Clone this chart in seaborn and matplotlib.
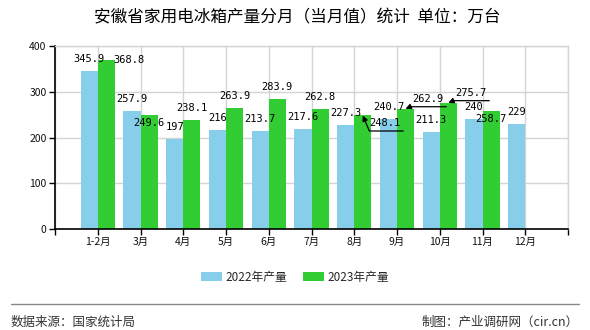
import numpy as np
import pandas as pd
import seaborn as sns
import matplotlib
matplotlib.use("Agg")
import matplotlib.pyplot as plt
from matplotlib.lines import Line2D
from matplotlib.patches import Patch

# ---- data ----
months = ["1-2月", "3月", "4月", "5月", "6月", "7月", "8月", "9月", "10月", "11月", "12月"]
prod_2022 = [345.9, 257.9, 197, 216, 213.7, 217.6, 227.3, 240.7, 211.3, 240, 229]
prod_2023 = [368.8, 249.6, 238.1, 263.9, 283.9, 262.8, 248.1, 262.9, 275.7, 258.7, np.nan]
series_names = ["2022年产量", "2023年产量"]
yticks = [0, 100, 200, 300, 400]
title = "安徽省家用电冰箱产量分月（当月值）统计  单位：万台"
source_text = "数据来源：国家统计局"
maker_text = "制图：产业调研网（cir.cn）"

colors = ["#87CEEB", "#32CD32"]

df = pd.DataFrame({
    "月份": months * 2,
    "产量": prod_2022 + prod_2023,
    "系列": [series_names[0]] * len(months) + [series_names[1]] * len(months),
})

sns.set_style("white")
plt.rcParams["font.family"] = ["Noto Sans CJK SC", "DejaVu Sans"]

W, H = 590, 330
fig = plt.figure(figsize=(W / 100, H / 100), dpi=100)
ax = fig.add_axes([55 / W, (H - 229) / H, 513 / W, 183 / H])

sns.barplot(data=df, x="月份", y="产量", hue="系列", order=months,
            hue_order=series_names, palette=colors, width=0.8, gap=0,
            saturation=1, ax=ax, legend=False, errorbar=None,
            linewidth=0, edgecolor="none")

ax.set_xlim(-1, 11)
ax.set_ylim(0, 400)
ax.set_yticks(yticks)
ax.set_yticklabels([str(t) for t in yticks])
ax.set_xticks(range(-1, 12))
ax.set_xticklabels([""] + months + [""])
ax.set_xlabel("")
ax.set_ylabel("")
ax.set_axisbelow(True)
ax.grid(True, color="#d4d4d4", lw=1)
for s in ["top", "right"]:
    ax.spines[s].set_color("#d4d4d4")
    ax.spines[s].set_linewidth(1)
for s in ["left", "bottom"]:
    ax.spines[s].set_color("black")
    ax.spines[s].set_linewidth(1.2)
ax.tick_params(axis="both", direction="out", length=4, width=1, color="black",
               labelsize=7.5, labelcolor="#111111", pad=2, bottom=True, left=True)

# ---- data labels ----
# pixel offsets (dx, dy) of label centre relative to bar top
offsets = {
    (1, 0): (23, 0),
    (1, 1): (0, -8.5),
    (1, 9): (0, -8.5),
    (1, 6): (22, -8),
    (1, 7): (22.4, 9.4),
    (1, 8): (22.2, 10.2),
}
arrows = {
    (1, 6): ((40.5, -15.5), 113),
    (1, 7): ((40.7, 2), 23),
    (1, 8): ((41, 2.2), 23),
}
for si, cont in enumerate(ax.containers):
    for i, bar in enumerate(cont):
        v = bar.get_height()
        if np.isnan(v) or v == 0:
            continue
        bx = bar.get_x() + bar.get_width() / 2
        dx, dy = offsets.get((si, i), (0, 12))
        txt = f"{v:g}"
        ax.annotate(txt, xy=(bx, v), xytext=(dx, dy), textcoords="offset pixels",
                    ha="center", va="center", fontsize=7.5,
                    family=["DejaVu Sans Mono"], color="black", annotation_clip=False)
        if (si, i) in arrows:
            (ax0, ay0), angB = arrows[(si, i)]
            ax.annotate("", xy=(bx, v), xytext=(ax0, ay0), textcoords="offset pixels",
                        arrowprops=dict(arrowstyle="-|>", color="black", lw=0.9,
                                        mutation_scale=8, shrinkA=0, shrinkB=0,
                                        connectionstyle=f"angle,angleA=0,angleB={angB},rad=0"),
                        annotation_clip=False)

# ---- title ----
fig.text(297.5 / W, 1 - 18 / H, title, ha="center", va="center", fontsize=12, color="black")

# ---- legend ----
handles = [Patch(facecolor=c, edgecolor="none") for c in colors]
fig.legend(handles, series_names, loc="center", bbox_to_anchor=(295 / W, 1 - 277 / H),
           ncol=2, frameon=False, fontsize=8.5, handlelength=1.8, handleheight=0.8,
           handletextpad=0.3, columnspacing=1.3)

# ---- footer ----
fig.add_artist(Line2D([11 / W, 579 / W], [1 - 304 / H, 1 - 304 / H],
                      transform=fig.transFigure, color="#888888", lw=1))
fig.text(11 / W, 1 - 322 / H, source_text, ha="left", va="center", fontsize=9, color="#333333")
fig.text(579 / W, 1 - 322 / H, maker_text, ha="right", va="center", fontsize=9, color="#333333")

fig.savefig("out.png", dpi=100)
